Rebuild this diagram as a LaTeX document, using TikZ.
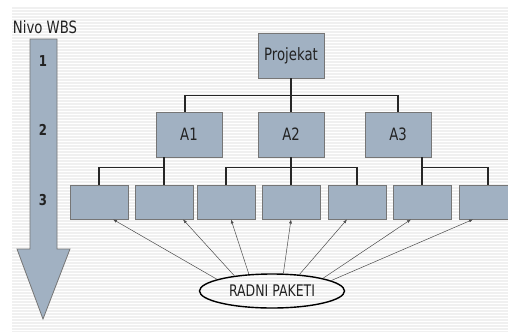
\documentclass[tikz,border=0pt]{standalone}
\usepackage{fontspec}
\setmainfont{DejaVu Sans}[FakeStretch=0.78]
\usetikzlibrary{arrows.meta, positioning, shapes.geometric}
\definecolor{wbsfill}{RGB}{161,177,194}
\definecolor{wbsline}{RGB}{118,118,118}
\definecolor{bgstripe}{RGB}{240,240,240}
\definecolor{txt}{RGB}{34,34,34}

\begin{document}
\begin{tikzpicture}[
    x=1pt, y=-1pt,
    box/.style={rectangle, draw=wbsline, fill=wbsfill, line width=0.8pt, minimum width=66pt, minimum height=45pt, inner sep=0pt, font=\fontsize{17}{20}\selectfont, text=txt},
    pkg/.style={box, minimum width=58pt, minimum height=34pt},
    link/.style={line width=1.4pt, black!85},
    arrow/.style={-{Latex[length=4pt, width=3pt]}, line width=0.5pt, black!70}
]
    \useasboundingbox (0,0) rectangle (508,335);

    % Background stripes
    \fill[bgstripe] (12,7) rectangle (508,332);
    \foreach \y in {9,12,...,330}
        \draw[white, line width=1pt] (12,\y) -- (508,\y);

    % WBS level arrow
    \draw[draw=wbsline, fill=wbsfill, line width=0.8pt]
        (30,39) -- (57,39) -- (57,249) -- (70,249) -- (43,319) -- (17,249) -- (30,249) -- cycle;
    \node[font=\fontsize{17}{20}\selectfont, text=txt] (nivo) at (45,27) {Nivo WBS};
    \node[font=\bfseries\fontsize{15}{18}\selectfont, text=txt] (lev1) at (43,61) {1};
    \node[font=\bfseries\fontsize{15}{18}\selectfont, text=txt] (lev2) at (43,130) {2};
    \node[font=\bfseries\fontsize{15}{18}\selectfont, text=txt] (lev3) at (43,200) {3};

    % Levels 1 and 2
    \node[box] (proj) at (291,55.5) {Projekat};
    \node[box] (a1) at (189,134.5) {A1};
    \node[box] (a2) at (291,134.5) {A2};
    \node[box] (a3) at (398,134.5) {A3};

    % Level 3: work packages
    \foreach \n/\x in {1/99, 2/164, 3/226, 4/291, 5/357, 6/422, 7/488}
        \node[pkg] (w\n) at (\x,202) {};

    \node[ellipse, draw, line width=1.4pt, minimum width=145pt, minimum height=34pt, inner sep=0pt,
          font=\fontsize{16}{19}\selectfont, text=txt] (rp) at (272,291) {RADNI PAKETI};

    % Tree lines
    \draw[link] (proj.south) -- ++(0,17) coordinate (bus);
    \draw[link] ([xshift=-4pt]a1.north) |- (bus) -| (a3.north);
    \draw[link] (bus) -- (a2.north);

    \draw[link] (w1.north) -- ++(0,-17) -| (w2.north);
    \draw[link] (a1.south -| w2.north) -- (w2.north);
    \draw[link] (w3.north) -- ++(0,-17) -| (w5.north);
    \draw[link] (a2.south) -- (w4.north);
    \draw[link] (w6.north) -- ++(0,-17) -| (w7.north);
    \draw[link] (a3.south -| w6.north) -- (w6.north);

    % Work package arrows
    \foreach \a/\n/\s in {168/1/14, 158/2/19, 144/3/5, 57/4/0, 31/5/-10, 14/6/-11, 10/7/-15}
        \draw[arrow] (rp.\a) -- ([xshift=\s pt]w\n.south);
\end{tikzpicture}
\end{document}
